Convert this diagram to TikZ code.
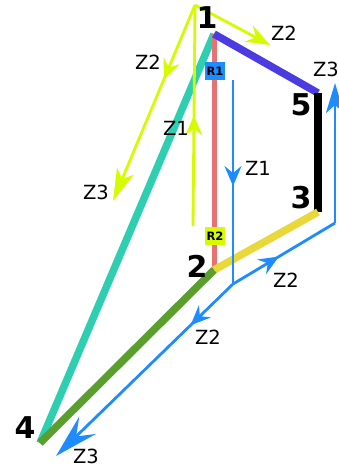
\documentclass[tikz,border=0pt]{standalone}
\usepackage{fontspec}
\setmainfont{DejaVu Sans}
\usepackage{tikz}
\usetikzlibrary{arrows.meta, decorations.markings}

\definecolor{lime}{HTML}{D6FA00}
\definecolor{load}{HTML}{1E8CFF}
\definecolor{teal}{HTML}{2ECFB0}
\definecolor{violet}{HTML}{4A3CE0}
\definecolor{salmon}{HTML}{E87272}
\definecolor{mustard}{HTML}{E8D83A}
\definecolor{grass}{HTML}{5A9E2E}

\begin{document}
\begin{tikzpicture}[
        x=1pt, y=-1pt,
        member/.style={line width=7.5pt},
        force/.style={line width=2.8pt},
        endtip/.style={-{Stealth[length=#1, width=18pt, inset=8pt]}},
        endtip/.default=24pt,
        midtip/.style={postaction={decorate}, decoration={markings,
            mark=at position #1 with {\arrow{Stealth[length=20pt, width=17pt, inset=7pt]}}}},
        joint/.style={font=\fontsize{30}{30}\selectfont\bfseries},
        zlabel/.style={font=\fontsize{19.5}{19.5}\selectfont},
        rod/.style={font=\fontsize{11.5}{11.5}\selectfont\bfseries, inner sep=1pt, minimum width=20pt, minimum height=18pt}
    ]
    \useasboundingbox (0,0) rectangle (338,468);
    % joints
    \coordinate (n1) at (214,34);
    \coordinate (n5) at (318,93);
    \coordinate (n3) at (318,212);
    \coordinate (n2) at (214,270);
    \coordinate (n4) at (40,443);
    % members
    \draw[member, teal] (n1) -- (n4);
    \draw[line width=5pt, salmon] (n1) -- (n2);
    \draw[member, violet] (n1) -- (n5);
    \draw[member, black] (n5) -- (n3);
    \draw[member, mustard] (n3) -- (n2);
    \draw[member, grass] (n2) -- (n4);
    \node[rod, fill=load] (r1) at (215,71) {R1};
    \node[rod, fill=lime] (r2) at (215,236) {R2};
    % yellow loads
    \coordinate (ya) at (195,5);
    \coordinate (yb) at (270,45);
    \coordinate (yc) at (113,201);
    \coordinate (yd) at (193,226);
    \draw[force, lime, endtip] (ya) -- (yb);
    \draw[force, lime, endtip=32pt, midtip=0.38] (ya) -- (yc);
    \draw[force, lime, midtip=0.5] (yd) -- (ya);
    % blue loads
    \coordinate (bt) at (233,80);
    \coordinate (bj) at (233,284);
    \coordinate (bk) at (335,223);
    \coordinate (bu) at (335,83);
    \coordinate (bl) at (56,456);
    \draw[force, load, midtip=0.52] (bt) -- (bj);
    \draw[force, load, midtip=0.45] (bj) -- (bk);
    \draw[force, load, endtip=30pt] (bk) -- (bu);
    \draw[force, load, midtip=0.24, -{Stealth[length=44pt, width=24pt, inset=16pt]}] (bj) -- (bl);
    % joint numbers
    \node[joint] (l1) at (207,18) {1};
    \node[joint] (l5) at (301,105) {5};
    \node[joint] (l3) at (301,198) {3};
    \node[joint] (l2) at (197,266) {2};
    \node[joint] (l4) at (25,428) {4};
    % load names
    \node[zlabel] (z1) at (284,33) {Z2};
    \node[zlabel] (z2) at (326,69) {Z3};
    \node[zlabel] (z3) at (148,62) {Z2};
    \node[zlabel] (z4) at (176,128) {Z1};
    \node[zlabel] (z5) at (96,192) {Z3};
    \node[zlabel] (z6) at (258,168) {Z1};
    \node[zlabel] (z7) at (286,280) {Z2};
    \node[zlabel] (z8) at (208,337) {Z2};
    \node[zlabel] (z9) at (86,456) {Z3};
\end{tikzpicture}
\end{document}
